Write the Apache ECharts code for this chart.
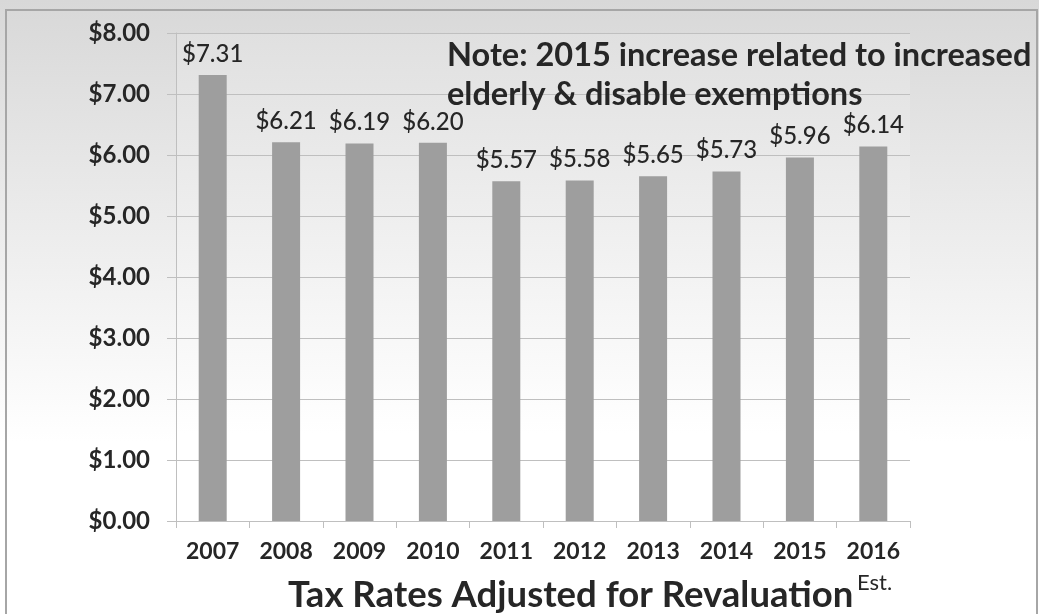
<!DOCTYPE html>
<html><head><meta charset="utf-8">
<script src="https://cdn.jsdelivr.net/npm/echarts@6/dist/echarts.min.js"></script>
<style>html,body{margin:0;padding:0;background:#fff}#c{width:1039px;height:614px}</style>
</head><body><div id="c"></div>
<script>
const years = ['2007','2008','2009','2010','2011','2012','2013','2014','2015','2016'];
const rates = [7.31, 6.21, 6.19, 6.20, 5.57, 5.58, 5.65, 5.73, 5.96, 6.14];
const yTicks = [0, 1, 2, 3, 4, 5, 6, 7, 8];
const noteLines = ['Note: 2015 increase related to increased', 'elderly & disable exemptions'];
const axisTitle = 'Tax Rates Adjusted for Revaluation';
const superscript = 'Est.';

const FONT = 'Lato';
const chart = echarts.init(document.getElementById('c'));
chart.setOption({
  animation: false,
  backgroundColor: {
    type: 'linear', x: 0, y: 0, x2: 0, y2: 1,
    colorStops: [{offset: 0, color: '#d8d8d8'}, {offset: 0.72, color: '#ffffff'}, {offset: 1, color: '#ffffff'}]
  },
  grid: {
    left: 176, right: 129, top: 33, bottom: 93, show: true, borderWidth: 0,
    backgroundColor: {
      type: 'linear', x: 0, y: 0, x2: 0, y2: 1,
      colorStops: [{offset: 0, color: '#e0e0e0'}, {offset: 0.82, color: '#ffffff'}, {offset: 1, color: '#ffffff'}]
    }
  },
  xAxis: {
    type: 'category', data: years,
    axisLine: {lineStyle: {color: '#bfbfbf', width: 1}},
    axisTick: {show: true, length: 7, lineStyle: {color: '#bfbfbf'}},
    axisLabel: {fontFamily: FONT, fontWeight: 'bold', fontSize: 23, color: '#262626', margin: 19}
  },
  yAxis: {
    type: 'value', min: 0, max: 8, interval: 1,
    axisLine: {show: true, lineStyle: {color: '#bfbfbf', width: 1}},
    axisTick: {show: true, length: 9, lineStyle: {color: '#bfbfbf'}},
    splitLine: {lineStyle: {color: '#bfbfbf', width: 1}},
    axisLabel: {
      fontFamily: FONT, fontWeight: 'bold', fontSize: 24, color: '#262626', margin: 26,
      formatter: v => yTicks.includes(v) ? '$' + v.toFixed(2) : ''
    }
  },
  series: [{
    type: 'bar', data: rates, barWidth: 28,
    itemStyle: {color: '#9e9e9e'},
    label: {
      show: true, position: 'top', distance: 9,
      fontFamily: FONT, fontSize: 24, fontWeight: 500, color: '#262626',
      formatter: p => '$' + p.value.toFixed(2)
    }
  }],
  graphic: [
    {type: 'rect', shape: {x: 6, y: 10, width: 1031, height: 620}, style: {fill: 'none', stroke: '#a6a6a6', lineWidth: 2}, z: 100},
    {type: 'text', left: 447, top: 39, style: {text: noteLines[0], font: 'bold 32.5px ' + FONT, fill: '#262626'}, z: 101},
    {type: 'text', left: 447, top: 78, style: {text: noteLines[1], font: 'bold 32.5px ' + FONT, fill: '#262626'}, z: 101},
    {type: 'text', left: 288, top: 577, style: {text: axisTitle, font: 'bold 36.5px ' + FONT, fill: '#262626'}, z: 101},
    {type: 'text', left: 857, top: 572, style: {text: superscript, font: '22px ' + FONT, fill: '#262626'}, z: 101}
  ]
});
</script></body></html>
